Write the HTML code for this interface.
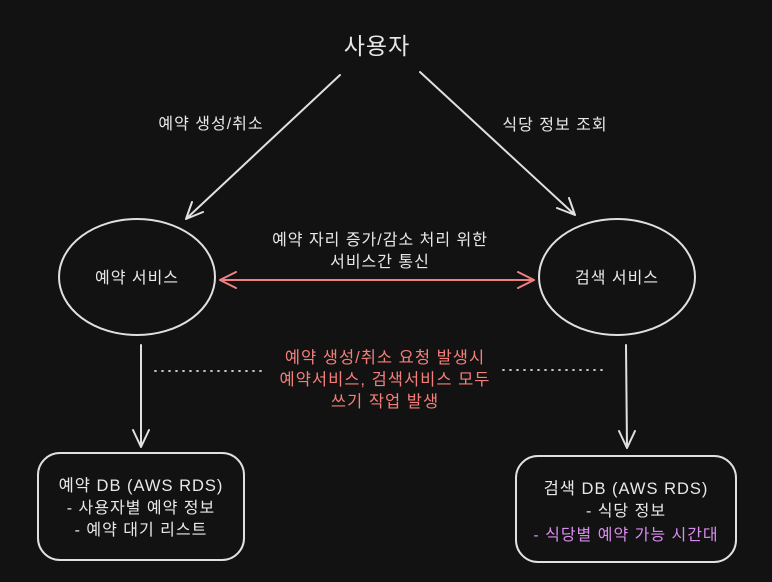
<!DOCTYPE html>
<html><head><meta charset="utf-8"><style>
html,body{margin:0;padding:0;background:#121212;}
svg{display:block}
text{font-family:"Liberation Sans","Noto Sans CJK KR",sans-serif;fill:#e8e8e8;text-anchor:middle;letter-spacing:1px}
</style></head><body>
<svg width="772" height="582" viewBox="0 0 772 582">
<rect width="772" height="582" fill="#121212"/>
<g stroke="#e0e0e0" stroke-width="2" fill="none" stroke-linecap="round">
<ellipse cx="137" cy="277" rx="78" ry="58"/>
<ellipse cx="617" cy="277" rx="78" ry="58"/>
<rect x="38" y="453" width="206" height="107" rx="22"/>
<rect x="516" y="456" width="220" height="106" rx="22"/>
<path d="M340 75 L186 219 M186 219 L192 202 M186 219 L203 212"/>
<path d="M420 72 L575 215 M575 215 L557 208 M575 215 L569 198"/>
<path d="M141 345 L141 447 M141 447 L133 430 M141 447 L149 430"/>
<path d="M626 345 L627 448 M627 448 L619 431 M627 448 L635 431"/>
<path d="M155 371 L262 371 M503 370 L607 370" stroke-dasharray="1 6" stroke-width="1.8"/>
</g>
<g stroke="#f08080" stroke-width="2" fill="none" stroke-linecap="round">
<path d="M220 280 L534 280 M220 280 L236 272 M220 280 L236 288 M534 280 L518 272 M534 280 L518 288"/>
</g>
<text x="377" y="54" font-size="23">사용자</text>
<text x="211" y="129" font-size="16">예약 생성/취소</text>
<text x="555" y="130" font-size="16">식당 정보 조회</text>
<text x="380" y="245" font-size="16">예약 자리 증가/감소 처리 위한</text>
<text x="380" y="267" font-size="16">서비스간 통신</text>
<text x="137" y="283" font-size="16">예약 서비스</text>
<text x="617" y="283" font-size="16">검색 서비스</text>
<text x="385" y="363" font-size="16.5" style="fill:#f47f7a">예약 생성/취소 요청 발생시</text>
<text x="385" y="385" font-size="16.5" style="fill:#f47f7a">예약서비스, 검색서비스 모두</text>
<text x="385" y="407" font-size="16.5" style="fill:#f47f7a">쓰기 작업 발생</text>
<text x="141" y="491" font-size="16.5">예약 DB (AWS RDS)</text>
<text x="141" y="513" font-size="16">- 사용자별 예약 정보</text>
<text x="141" y="535" font-size="16">- 예약 대기 리스트</text>
<text x="626" y="494" font-size="16.5">검색 DB (AWS RDS)</text>
<text x="626" y="516" font-size="16">- 식당 정보</text>
<text x="626" y="540" font-size="16" style="fill:#d98bf0">- 식당별 예약 가능 시간대</text>
</svg>
</body></html>
